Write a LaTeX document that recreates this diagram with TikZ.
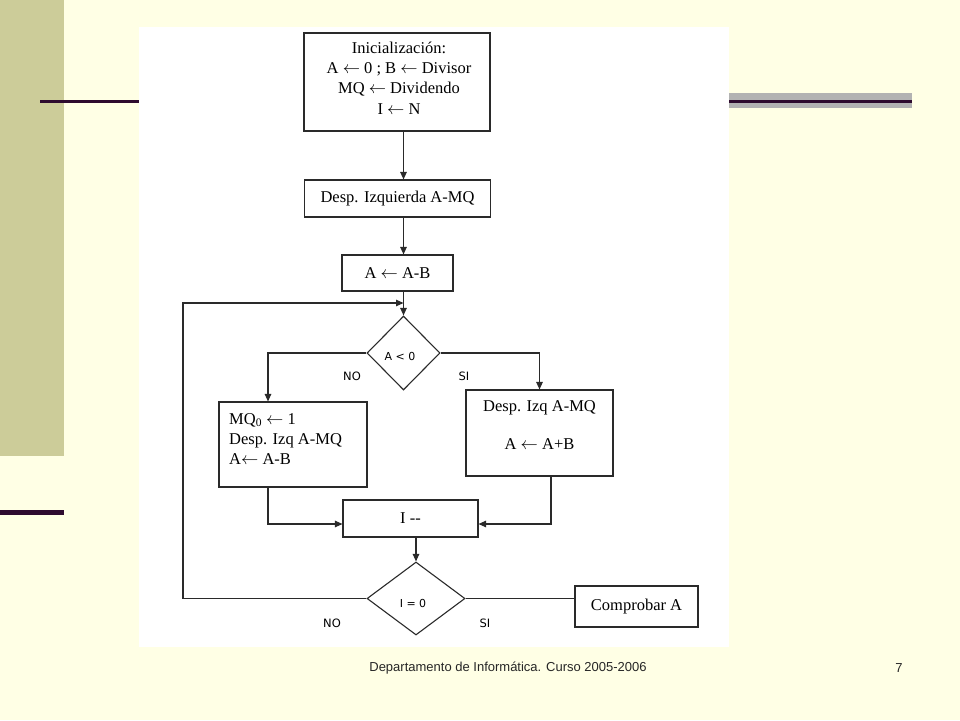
\documentclass[tikz,border=0pt]{standalone}
\usepackage{fontspec}
\setmainfont{Liberation Serif}
\newfontfamily\arialf{Liberation Sans}
\newfontfamily\comicf{DejaVu Sans}
\usetikzlibrary{shapes.geometric,arrows.meta,calc}
\definecolor{bgY}{HTML}{FFFFE5}
\definecolor{olivebd}{HTML}{CCCC99}
\definecolor{plum}{HTML}{2E0B2E}
\definecolor{barG}{HTML}{B2B2B2}
\definecolor{ln}{HTML}{2A2A2A}
\begin{document}
\begin{tikzpicture}[x=1pt,y=-1pt,
 box/.style={draw=ln, line width=1.1pt, fill=white, inner sep=0pt, align=center, font=\fontsize{16.5}{20.3}\selectfont},
 txt/.style={inner sep=0pt, font=\fontsize{16.5}{20.3}\selectfont},
 dec/.style={diamond, draw=ln, line width=1.1pt, fill=white, inner sep=0pt, font=\comicf\fontsize{11}{13}\selectfont},
 arr/.style={draw=ln, line width=1.1pt, -{Triangle[length=7.5pt,width=6.5pt]}},
 con/.style={draw=ln, line width=1.1pt},
 lab/.style={inner sep=0pt, font=\comicf\fontsize{11.5}{13}\selectfont},
 foot/.style={inner sep=0pt, text=black!85, font=\arialf\fontsize{13}{15}\selectfont}]
\useasboundingbox (0,0) rectangle (960,720);
% slide background
\fill[bgY] (0,0) rectangle (960,720);
\fill[olivebd] (0,0) rectangle (64,456);
\fill[plum] (0,510) rectangle (64,515);
\fill[plum] (40,99.5) rectangle (140,102.5);
\fill[barG] (729,93) rectangle (912,108);
\fill[plum] (729,99.5) rectangle (912,102.5);
\fill[white] (139,27) rectangle (729,647);

% boxes
\node[box, minimum width=186pt, minimum height=98pt] (init) at (397,82) {};
\node[txt, align=center] (initT) at (399,78) {Inicialización:\\ A $\leftarrow$ 0 ; B $\leftarrow$ Divisor\\ MQ $\leftarrow$ Dividendo\\ I $\leftarrow$ N};
\node[box, minimum width=186pt, minimum height=37pt] (desp) at (397.5,198.5) {Desp. Izquierda A-MQ};
\node[box, minimum width=111pt, minimum height=36pt] (ab) at (397.5,273) {A $\leftarrow$ A-B};
\node[dec, minimum width=73pt, minimum height=74pt] (d1) at (403.5,353) {};
\node[inner sep=0pt, font=\comicf\fontsize{11}{13}\selectfont] (d1T) at (400,356) {A < 0};
\node[box, minimum width=148pt, minimum height=85pt] (L) at (293,444.5) {};
\node[txt, anchor=west, align=left] (LT) at (229,439) {MQ\textsubscript{0} $\leftarrow$ 1\\ Desp. Izq A-MQ\\ A$\leftarrow$ A-B};
\node[box, minimum width=147pt, minimum height=86pt] (R) at (539.5,433) {};
\node[txt, align=center] (RT) at (539.5,425) {Desp. Izq A-MQ\\[17pt] A $\leftarrow$ A+B};
\node[box, minimum width=135pt, minimum height=37pt] (M) at (410.5,518.5) {I -{}-};
\node[dec, minimum width=98pt, minimum height=73pt] (d2) at (416,598.5) {};
\node[inner sep=0pt, font=\comicf\fontsize{11}{13}\selectfont] (d2T) at (413,603) {I = 0};
\node[box, minimum width=123pt, minimum height=41pt] (C) at (636.5,606.5) {Comprobar A};

% labels
\node[lab] (no1) at (352,376) {NO};
\node[lab] (si1) at (464,376) {SI};
\node[lab] (no2) at (332,623) {NO};
\node[lab] (si2) at (485,623) {SI};

% helper coordinates
\coordinate (lp) at (183,303);
\coordinate (lx) at (268,0);
\coordinate (rx) at (551,0);
\coordinate (my) at (0,524);

% connectors
\draw[arr] (init.south -| d1) -- (desp.north -| d1);
\draw[arr] (desp.south -| d1) -- (ab.north -| d1);
\draw[arr] (ab.south -| d1) -- (d1.north);
\draw[arr] (d2.west) -| (lp) -- (lp -| d1);
\draw[arr] (d1.west) -| (L.north -| lx);
\draw[arr] (d1.east) -| (R.north);
\draw[arr] (L.south -| lx) |- (M.west |- my);
\draw[arr] (R.south -| rx) |- (M.east |- my);
\draw[arr] (M.south -| d2) -- (d2.north);
\draw[con] (d2.east) -- (d2.east -| C.west);

% footer
\node[foot] (ft) at (508,668) {Departamento de Informática. Curso 2005-2006};
\node[foot] (pg) at (899,668) {7};
\end{tikzpicture}
\end{document}
